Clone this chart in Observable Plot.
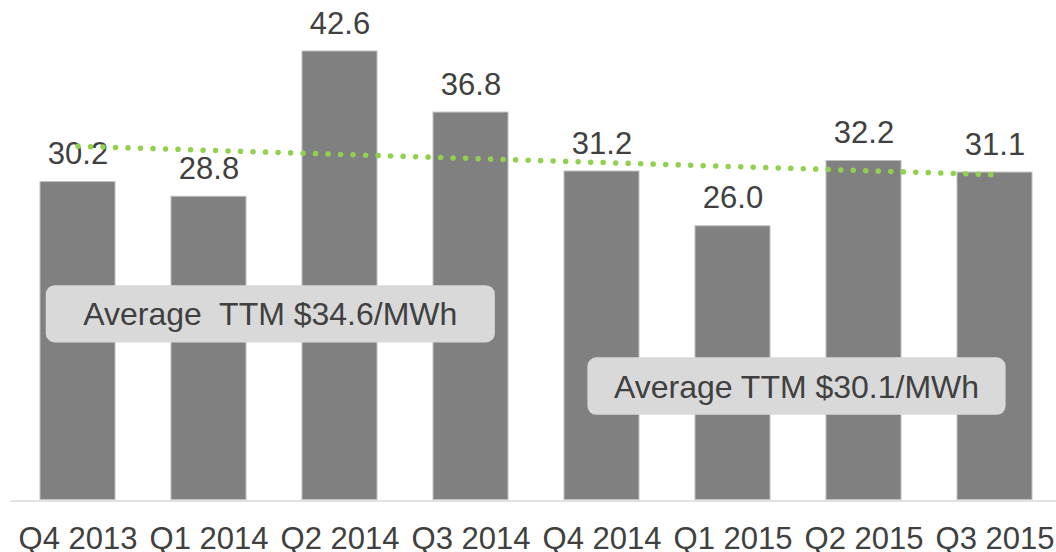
<!DOCTYPE html>
<html>
<head>
<meta charset="utf-8">
<script src="https://cdn.jsdelivr.net/npm/d3@7"></script>
<script src="https://cdn.jsdelivr.net/npm/@observablehq/plot@0.6"></script>
<style>
  html, body { margin: 0; padding: 0; background: #fff; }
  svg text { white-space: pre; }
</style>
</head>
<body>
<div id="chart"></div>
<script>
const categories = ["Q4 2013", "Q1 2014", "Q2 2014", "Q3 2014", "Q4 2014", "Q1 2015", "Q2 2015", "Q3 2015"];
const values = [30.2, 28.8, 42.6, 36.8, 31.2, 26.0, 32.2, 31.1];
const labels = ["30.2", "28.8", "42.6", "36.8", "31.2", "26.0", "32.2", "31.1"];
const trendCategories = ["Q4 2013", "Q3 2015"];
const trendValues = [33.6, 30.9];
const notes = ["Average  TTM $34.6/MWh", "Average TTM $30.1/MWh"];
const noteCategories = ["Q1 2014", "Q1 2015"];
const noteValues = [16.6, 9.7];

const bars = categories.map((q, i) => ({q, v: values[i], label: labels[i]}));
const trend = trendCategories.map((q, i) => ({q, v: trendValues[i]}));

const FONT = "'Liberation Sans', Arial, sans-serif";
const TEXT = "#404040";
const noteDx = [61.3, 63.5];

const plot = Plot.plot({
  width: 1056,
  height: 552,
  marginLeft: 10,
  marginRight: 0,
  marginTop: 51,
  marginBottom: 52.5,
  style: {fontFamily: FONT, fontSize: "31px", color: TEXT, background: "#fff"},
  x: {domain: categories, range: [10, 1061.7], paddingInner: 0.4295, paddingOuter: 0.2148, axis: null},
  y: {domain: [0, 42.6], range: [499.5, 51], axis: null},
  marks: [
    Plot.barY(bars, {x: "q", y: "v", fill: "#808080", stroke: "#BFBFBF", strokeWidth: 1}),
    Plot.ruleY([0], {stroke: "#D9D9D9", strokeWidth: 1.5, dy: 1}),
    Plot.axisX({tickSize: 0, tickPadding: 26.5, fontSize: 31, fill: TEXT, label: null}),
    Plot.text(bars, {x: "q", y: "v", text: "label", dy: -18, lineAnchor: "bottom", fontSize: 31, fill: TEXT}),
    ...notes.map((n, i) => Plot.text([n], {
      x: () => noteCategories[i], y: () => noteValues[i], text: d => d,
      dx: noteDx[i], lineAnchor: "bottom", fontSize: 32, fill: TEXT
    })),
    Plot.line(trend, {x: "q", y: "v", stroke: "#92D050", strokeWidth: 5.5, strokeDasharray: "0.01 12.5", strokeLinecap: "round"})
  ]
});
document.getElementById("chart").appendChild(plot);

// rounded grey boxes behind the annotation texts
const pads = [{x: 37.5, top: 11, bottom: 10.2}, {x: 26.5, top: 11.6, bottom: 9.9}];
const svgNS = "http://www.w3.org/2000/svg";
plot.querySelectorAll("text").forEach(t => {
  const idx = notes.indexOf(t.textContent);
  if (idx < 0) return;
  const b = t.getBBox();
  const p = pads[idx];
  const r = document.createElementNS(svgNS, "rect");
  r.setAttribute("x", b.x - p.x);
  r.setAttribute("y", b.y - p.top);
  r.setAttribute("width", b.width + 2 * p.x);
  r.setAttribute("height", b.height + p.top + p.bottom);
  r.setAttribute("rx", 9);
  r.setAttribute("fill", "#D9D9D9");
  const tr = t.getAttribute("transform");
  if (tr) r.setAttribute("transform", tr);
  t.parentNode.insertBefore(r, t);
});
</script>
</body>
</html>
